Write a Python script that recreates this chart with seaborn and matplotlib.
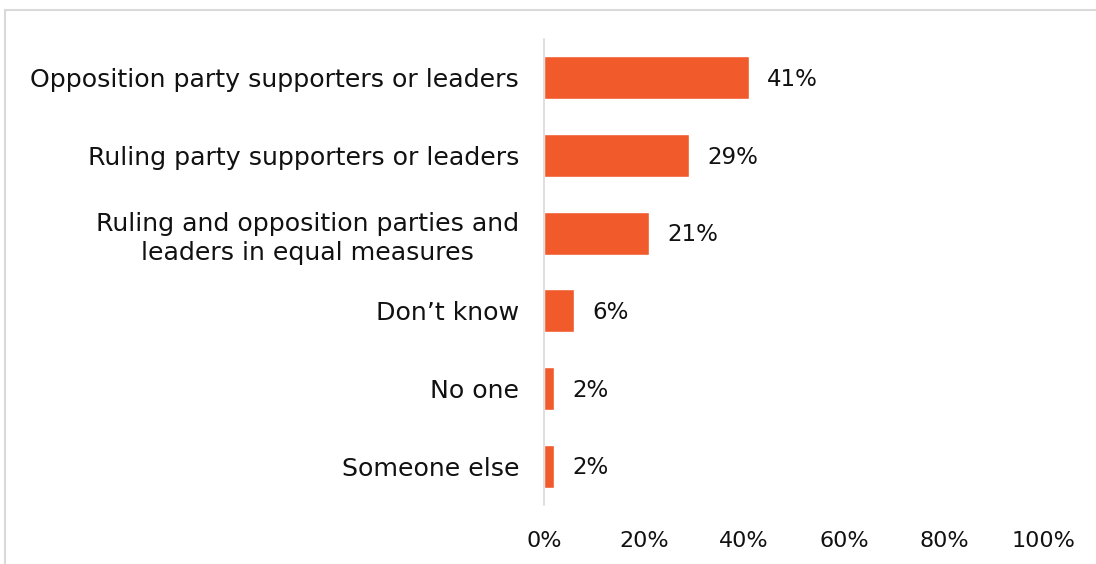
import matplotlib
matplotlib.use("Agg")
import matplotlib.pyplot as plt
import seaborn as sns
import pandas as pd
from matplotlib.patches import Rectangle

categories = [
    "Opposition party supporters or leaders",
    "Ruling party supporters or leaders",
    "Ruling and opposition parties and\nleaders in equal measures",
    "Don\u2019t know",
    "No one",
    "Someone else",
]
values = [41, 29, 21, 6, 2, 2]
value_labels = ["41%", "29%", "21%", "6%", "2%", "2%"]
x_ticks = [0, 20, 40, 60, 80, 100]
x_tick_labels = ["0%", "20%", "40%", "60%", "80%", "100%"]

sns.set_theme(style="white")
plt.rcParams['font.family'] = ['DejaVu Sans']

df = pd.DataFrame({"category": categories, "value": values})

fig = plt.figure(figsize=(10.96, 5.64), dpi=100)
ax = fig.add_axes([544/1096, 1 - 505/564, 500/1096, 466/564])

sns.barplot(data=df, y="category", x="value", orient="h", color="#F15A2B",
            saturation=1, width=0.55, ax=ax)

for i, (v, lab) in enumerate(zip(values, value_labels)):
    ax.text(v + 3.6, i + 0.02, lab, va="center", ha="left", fontsize=16.5, color="#111111")

ax.set_xlim(0, 100)
ax.set_xticks(x_ticks)
ax.set_xticklabels(x_tick_labels, fontsize=16, color="#111111")
ax.tick_params(axis="x", length=0, pad=19)
ax.tick_params(axis="y", length=0, pad=18)
for t in ax.get_yticklabels():
    t.set_fontsize(18.2)
    t.set_color("#111111")
    t.set_multialignment("center")
    t.set_linespacing(1.3)
ax.set_xlabel("")
ax.set_ylabel("")
for s in ["top", "right", "bottom"]:
    ax.spines[s].set_visible(False)
ax.spines["left"].set_color("#d9d9d9")
ax.spines["left"].set_linewidth(1.2)

fig.patches.append(Rectangle((5/1096, -0.1), 1.2, 1 - 10/564 + 0.1, transform=fig.transFigure,
                             fill=False, edgecolor="#d9d9d9", linewidth=1.5))

fig.savefig("out.png", dpi=100)
